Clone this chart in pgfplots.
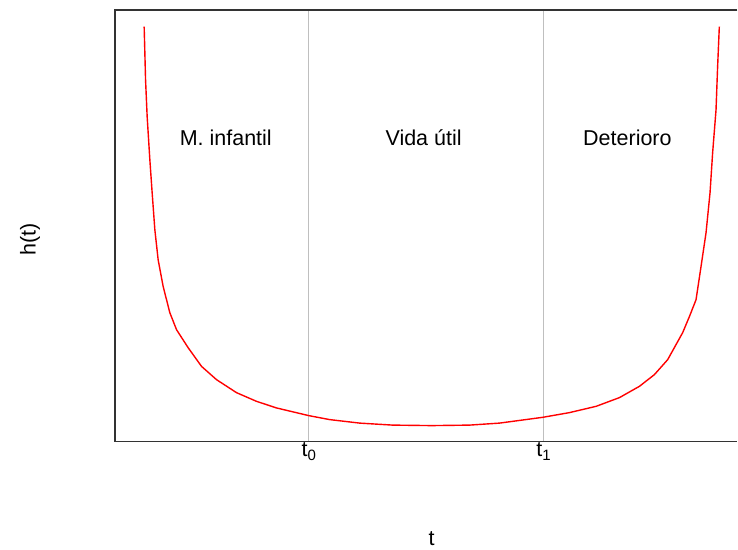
\documentclass[border=0pt]{standalone}
\usepackage{pgfplots}
\pgfplotsset{compat=1.18}
\usepackage{fontspec}
\setmainfont{Liberation Sans}
\begin{document}
\begin{tikzpicture}
\begin{axis}[
  name=ax,
  scale only axis,
  width=623pt, height=432pt,
  xmin=115, xmax=738, ymin=0, ymax=432,
  xtick={309,544},
  xticklabels={t\raisebox{-0.3ex}{\fontsize{15}{16}\selectfont 0}, t\raisebox{-0.3ex}{\fontsize{15}{16}\selectfont 1}},
  ytick=\empty,
  major tick length=0pt,
  tick label style={font=\fontsize{21.5}{24}\selectfont, inner sep=1pt},
  axis line style={draw=none},
  clip=false,
]
\addplot[color=black!25, line width=1.2pt] coordinates {(309,0) (309,432)};
\addplot[color=black!25, line width=1.2pt] coordinates {(544,0) (544,432)};
\addplot[color=red, line width=1.4pt] coordinates {
(144.3,415.3) (145.7,362) (147.3,325.3) (150,282) (152.3,249) (155,212)
(158.3,182) (163.3,155.3) (170,129) (176.7,112) (188.3,94) (201.7,75.3)
(216.7,62) (236.7,49) (256.7,40.3) (276.7,33.7) (309,26) (330,22)
(360,18.5) (393,16.5) (432,16) (470,16.5) (500,18.5) (543.3,24.3)
(570,29) (596.7,35.3) (620,44) (640,55.3) (655,67) (668.3,82) (683.3,109)
(690,125) (696.7,142) (701.7,175.3) (706.7,209) (710.7,249) (713.3,289)
(716.7,332) (718.3,375.3) (720,415.3)
};
\draw[black!80, line width=1.4pt] (axis cs:738,432) -- (axis cs:115,432) -- (axis cs:115,0) -- (axis cs:738,0);
\node[font=\fontsize{21.5}{24}\selectfont] at (axis cs:226,304) {M. infantil};
\node[font=\fontsize{21.5}{24}\selectfont] at (axis cs:424,304) {Vida útil};
\node[font=\fontsize{21.5}{24}\selectfont] at (axis cs:628,304) {Deterioro};
\node[font=\fontsize{21.5}{24}\selectfont] at (axis cs:432,-97) {t};
\node[font=\fontsize{21.5}{24}\selectfont, rotate=90] at (axis cs:30,202) {h(t)};
\end{axis}
\path (ax.south west) ++(-115pt,-108pt) rectangle ++(738pt,550pt);
\end{tikzpicture}
\end{document}
